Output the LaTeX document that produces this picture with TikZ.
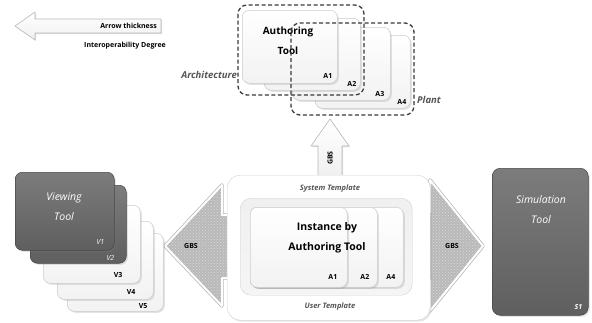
\documentclass[tikz,border=0pt]{standalone}
\usepackage{fontspec}
\setmainfont{Open Sans}
\usetikzlibrary{shadows,patterns}
\definecolor{darktop}{HTML}{7C7C7C}
\definecolor{darkbot}{HTML}{5F5F5F}
\definecolor{labgray}{HTML}{555555}
\begin{document}
\begin{tikzpicture}[x=1pt,y=-1pt,
  card/.style={draw=gray!40, line width=0.5pt, rounded corners=7pt, inner sep=0pt,
    top color=white, bottom color=gray!10, anchor=north west,
    drop shadow={opacity=0.22, shadow xshift=1.5pt, shadow yshift=-1.5pt}},
  darkcard/.style={card, draw=gray!55!black, top color=darktop, bottom color=darkbot},
  lbl/.style={font=\bfseries\fontsize{7}{8}\selectfont, inner sep=0pt},
  wlbl/.style={font=\itshape\fontsize{7}{8}\selectfont, text=white, inner sep=0pt},
  big/.style={font=\bfseries\fontsize{10}{12}\selectfont, inner sep=0pt},
  wbig/.style={font=\itshape\fontsize{10.5}{12}\selectfont, text=white, inner sep=0pt},
  tmpl/.style={font=\bfseries\itshape\fontsize{7.5}{9}\selectfont, text=labgray, inner sep=0pt},
  grouplbl/.style={tmpl, font=\bfseries\itshape\fontsize{9.5}{11}\selectfont},
  group/.style={draw=gray!45!black, line width=1.3pt, dash pattern=on 4pt off 2.5pt, rounded corners=9pt},
  hatch/.style={preaction={draw=gray!60, line width=3.4pt, line join=round},
    fill=gray!55, postaction={pattern=crosshatch dots, pattern color=gray!30},
    postaction={draw=white, line width=2pt, line join=round}},
  hollow/.style={draw=gray!55, line width=0.6pt, top color=white, bottom color=gray!12, line join=round,
    drop shadow={opacity=0.25, shadow xshift=1pt, shadow yshift=-1pt}}
]
\useasboundingbox[fill=white] (0,0) rectangle (592,322);

% legend arrow
\path[hollow] (15,26) -- (35,12) -- (35,19) -- (161,19) -- (161,33) -- (35,33) -- (35,40) -- cycle;
\node[lbl, anchor=east] (thick) at (157,26) {Arrow thickness};
\node[lbl] (degree) at (125,46) {Interoperability Degree};

% authoring tool stack
\node[card, minimum width=95pt, minimum height=73pt] (ta4) at (315,35) {};
\node[lbl, anchor=south east] (la4) at ([shift={(-4,-4)}]ta4.south east) {A4};
\node[card, minimum width=98pt, minimum height=73pt] (ta3) at (292,27) {};
\node[lbl, anchor=south east] (la3) at ([shift={(-6,-4)}]ta3.south east) {A3};
\node[card, minimum width=96pt, minimum height=72pt] (ta2) at (264,18) {};
\node[lbl, anchor=south east] (la2) at ([shift={(-4,-4)}]ta2.south east) {A2};
\node[card, minimum width=95pt, minimum height=73pt] (ta1) at (242,10) {};
\node[lbl, anchor=south east] (la1) at ([shift={(-5,-5)}]ta1.south east) {A1};
\node[big, align=center] (atool) at (288,41) {Authoring\\[8pt]Tool};

% architecture / plant groups
\draw[group] (238,5) rectangle (364,95);
\draw[group] (291,23) rectangle (414,115);
\node[grouplbl, anchor=east] (arch) at (237,75) {Architecture};
\node[grouplbl, anchor=west] (plant) at (417,100) {Plant};

% GBS arrows
\path[hollow] (330,119) -- (349,146) -- (342,146) -- (342,178) -- (318,178) -- (318,146) -- (311,146) -- cycle;
\node[lbl, rotate=90] (gbsup) at (330,158) {GBS};
\path[hatch] (165,246) -- (222,185) -- (222,215) -- (245,215) -- (245,278) -- (222,278) -- (222,306) -- cycle;
\node[lbl] (gbsl) at (191,246) {GBS};
\path[hatch] (483,246) -- (430,180) -- (430,212) -- (410,212) -- (410,280) -- (430,280) -- (430,311) -- cycle;
\node[lbl] (gbsr) at (452,246) {GBS};

% templates
\node[draw=gray!35, fill=white, rounded corners=13pt, anchor=north west, minimum width=203pt, minimum height=145pt, inner sep=0pt,
  drop shadow={opacity=0.2, shadow xshift=1.5pt, shadow yshift=-1.5pt}] (systpl) at (227,175) {};
\node[tmpl] (systxt) at (330,189) {System Template};
\node[tmpl] (usrtxt) at (330,307) {User Template};
\node[draw=gray!35, top color=gray!12, bottom color=gray!8, rounded corners=11pt, anchor=north west, minimum width=172pt, minimum height=97pt, inner sep=0pt] (usrtpl) at (240,198) {};

% instance cards
\node[card, minimum width=153pt, minimum height=80pt] (ia4) at (250,207) {};
\node[lbl, anchor=south east] (lia4) at ([shift={(-8,-8)}]ia4.south east) {A4};
\node[card, minimum width=127pt, minimum height=80pt] (ia2) at (250,207) {};
\node[lbl, anchor=south east] (lia2) at ([shift={(-8,-8)}]ia2.south east) {A2};
\node[card, minimum width=97pt, minimum height=80pt] (ia1) at (250,207) {};
\node[lbl, anchor=south east] (lia1) at ([shift={(-10,-8)}]ia1.south east) {A1};
\node[big, font=\bfseries\fontsize{10.5}{12}\selectfont, align=center] (inst) at (327,238) {Instance by\\[8pt]Authoring Tool};

% viewing tool stack
\node[card, minimum width=96pt, minimum height=78pt] (v5) at (67,233) {};
\node[lbl, anchor=south east] (lv5) at ([shift={(-16,-3)}]v5.south east) {V5};
\node[card, minimum width=96pt, minimum height=78pt] (v4) at (57,221) {};
\node[lbl, anchor=south east] (lv4) at ([shift={(-18,-5)}]v4.south east) {V4};
\node[card, minimum width=97pt, minimum height=78pt] (v3) at (43,205) {};
\node[lbl, anchor=south east] (lv3) at ([shift={(-18,-6)}]v3.south east) {V3};
\node[darkcard, minimum width=96pt, minimum height=78pt] (v2) at (30,185) {};
\node[wlbl, anchor=south east] (lv2) at ([shift={(-12,-3)}]v2.south east) {V2};
\node[darkcard, minimum width=99pt, minimum height=78pt] (v1) at (15,172) {};
\node[wlbl, anchor=south east] (lv1) at ([shift={(-10,-6)}]v1.south east) {V1};
\node[wbig, align=center] (vtool) at (64,207) {Viewing\\[8pt]Tool};

% simulation tool
\node[darkcard, rounded corners=8pt, minimum width=96pt, minimum height=147pt] (sim) at (492,168) {};
\node[wlbl, font=\itshape\bfseries\fontsize{7}{8}\selectfont, anchor=south east] (ls1) at ([shift={(-6,-6)}]sim.south east) {S1};
\node[wbig, align=center] (stool) at (541,210) {Simulation\\[8pt]Tool};
\end{tikzpicture}
\end{document}
